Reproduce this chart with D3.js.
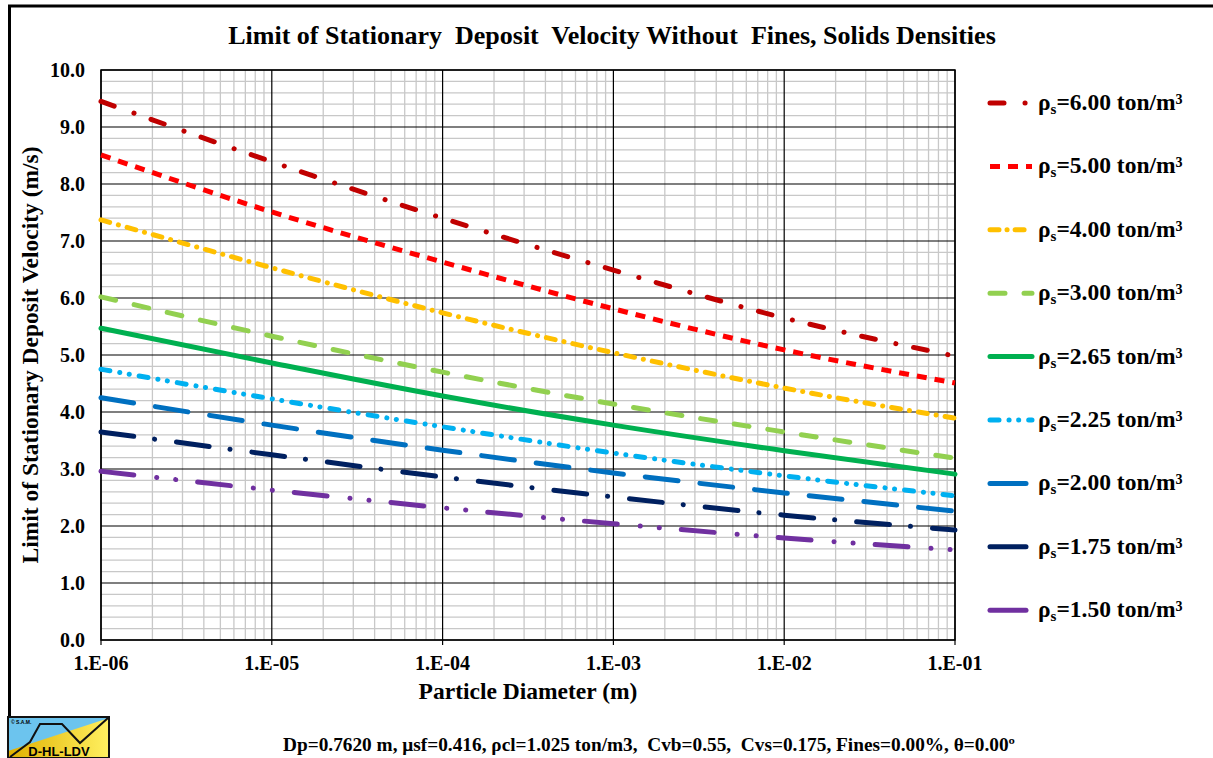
<!DOCTYPE html>
<html>
<head>
<meta charset="utf-8">
<script src="https://cdn.jsdelivr.net/npm/d3@7"></script>
<style>
  body { margin: 0; background: #fff; }
  svg { display: block; }
  text { font-family: "Liberation Serif", "Times New Roman", serif; font-weight: bold; fill: #000; white-space: pre; }
</style>
</head>
<body>
<script>
  //Data
  var diameters = [1e-6, 1e-5, 1e-4, 1e-3, 1e-2, 1e-1]; //particle diameter (m)
  var densities = ["6.00", "5.00", "4.00", "3.00", "2.65", "2.25", "2.00", "1.75", "1.50"];
  var v600 = [9.45, 8.39, 7.40, 6.49, 5.65, 4.98];
  var v500 = [8.51, 7.51, 6.63, 5.81, 5.09, 4.51];
  var v400 = [7.37, 6.53, 5.74, 5.04, 4.42, 3.89];
  var v300 = [6.02, 5.33, 4.70, 4.14, 3.65, 3.19];
  var v265 = [5.47, 4.86, 4.28, 3.77, 3.32, 2.91];
  var v225 = [4.75, 4.23, 3.74, 3.28, 2.88, 2.53];
  var v200 = [4.25, 3.77, 3.33, 2.93, 2.58, 2.26];
  var v175 = [3.65, 3.25, 2.86, 2.51, 2.19, 1.93];
  var v150 = [2.96, 2.63, 2.32, 2.04, 1.79, 1.58];
  var yTicks = [0, 1, 2, 3, 4, 5, 6, 7, 8, 9, 10];

  var values = [v600, v500, v400, v300, v265, v225, v200, v175, v150];
  var colors = ["#C00000", "#FF0000", "#FFC000", "#92D050", "#00B050", "#00B0F0", "#0070C0", "#002060", "#7030A0"];
  var dashes = ["14,21,0.1,18", "10,8", "9,9,0.1,9", "15,19", null, "9,10,0.1,9.5,0.1,10", "33,22", "33,21,0.1,22", "33,23,0.1,19,0.1,22"];
  var caps = ["round", "butt", "round", "round", "round", "round", "round", "round", "round"];

  var W = 1213, H = 758;
  var pLeft = 101, pRight = 955, pTop = 70, pBottom = 640; //plot area

  var svg = d3.select("body").append("svg").attr("width", W).attr("height", H);

  var x = d3.scaleLog().domain([1e-6, 1e-1]).range([pLeft, pRight]);
  var y = d3.scaleLinear().domain([0, 10]).range([pBottom, pTop]);

  //frame
  svg.append("line").attr("x1", 8).attr("x2", W).attr("y1", 6).attr("y2", 6)
      .attr("stroke", "#000").attr("stroke-width", 3);
  svg.append("line").attr("x1", 9.5).attr("x2", 9.5).attr("y1", 5).attr("y2", 718)
      .attr("stroke", "#000").attr("stroke-width", 3);

  //GRID
  var minorY = d3.range(0, 10.01, 0.2).filter(function(d) { return Math.abs(d - Math.round(d)) > 0.01; });
  svg.append("g").selectAll("line").data(minorY).enter().append("line")
      .attr("x1", pLeft).attr("x2", pRight)
      .attr("y1", function(d) { return y(d); }).attr("y2", function(d) { return y(d); })
      .attr("stroke", "#C8C8C8").attr("stroke-width", 1.3);

  var minorX = [];
  diameters.slice(0, 5).forEach(function(d) {
      for (var k = 2; k <= 9; k++) minorX.push(d * k);
  });
  svg.append("g").selectAll("line").data(minorX).enter().append("line")
      .attr("x1", function(d) { return x(d); }).attr("x2", function(d) { return x(d); })
      .attr("y1", pTop).attr("y2", pBottom)
      .attr("stroke", "#C8C8C8").attr("stroke-width", 1.3);

  svg.append("g").selectAll("line").data(yTicks).enter().append("line")
      .attr("x1", pLeft).attr("x2", pRight)
      .attr("y1", function(d) { return y(d); }).attr("y2", function(d) { return y(d); })
      .attr("stroke", "#000").attr("stroke-width", 1.2);

  svg.append("g").selectAll("line").data(diameters).enter().append("line")
      .attr("x1", function(d) { return x(d); }).attr("x2", function(d) { return x(d); })
      .attr("y1", pTop).attr("y2", pBottom + 5)
      .attr("stroke", "#000").attr("stroke-width", 1.2);

  svg.append("rect").attr("x", pLeft).attr("y", pTop)
      .attr("width", pRight - pLeft).attr("height", pBottom - pTop)
      .attr("fill", "none").attr("stroke", "#000").attr("stroke-width", 1.5);

  //AXES LABELS
  svg.append("g").selectAll("text").data(yTicks).enter().append("text")
      .attr("x", 85).attr("y", function(d) { return y(d); })
      .attr("dy", "0.35em").attr("text-anchor", "end")
      .style("font-size", "20px")
      .text(function(d) { return d.toFixed(1); });

  var fmtE = function(d) {
      var e = Math.round(Math.log10(d));
      return "1.E" + (e < 0 ? "-" : "+") + (Math.abs(e) < 10 ? "0" : "") + Math.abs(e);
  };
  svg.append("g").selectAll("text").data(diameters).enter().append("text")
      .attr("x", function(d) { return x(d); }).attr("y", 670)
      .attr("text-anchor", "middle")
      .style("font-size", "20px")
      .text(fmtE);

  svg.append("text").attr("x", 528).attr("y", 699).attr("text-anchor", "middle")
      .style("font-size", "23.5px").text("Particle Diameter (m)");

  svg.append("text").attr("transform", "translate(38,355) rotate(-90)")
      .attr("text-anchor", "middle").style("font-size", "23.5px")
      .text("Limit of Stationary Deposit Velocity (m/s)");

  svg.append("text").attr("x", 612).attr("y", 44).attr("text-anchor", "middle")
      .style("font-size", "26px").text("Limit of Stationary  Deposit  Velocity Without  Fines, Solids Densities");

  svg.append("text").attr("x", 283).attr("y", 751)
      .attr("textLength", 732).attr("lengthAdjust", "spacingAndGlyphs")
      .style("font-size", "18px")
      .text("Dp=0.7620 m, \u03bcsf=0.416, \u03c1cl=1.025 ton/m3,  Cvb=0.55,  Cvs=0.175, Fines=0.00%, \u03b8=0.00\u00ba");

  //LINES
  var line = d3.line()
      .x(function(d) { return x(d[0]); })
      .y(function(d) { return y(d[1]); })
      .curve(d3.curveMonotoneX);

  var plot = svg.append("g");
  values.forEach(function(vals, i) {
      var pts = diameters.map(function(d, j) { return [d, vals[j]]; });
      plot.append("path").datum(pts)
          .attr("d", line)
          .attr("fill", "none")
          .attr("stroke", colors[i])
          .attr("stroke-width", 5)
          .attr("stroke-linecap", caps[i])
          .attr("stroke-dasharray", dashes[i]);
  });

  //LEGEND
  var legDash = ["14,21,0.1,18", "10,8", "9,8,0.1,8", "15,19", null, "9,10,0.1,9.5,0.1,10", "36,22", "36,22", "36,22"];
  var legend = svg.append("g").selectAll("g").data(densities).enter().append("g")
      .attr("transform", function(d, i) { return "translate(0," + (103 + i * 63.4) + ")"; });
  legend.append("line").attr("x1", 990).attr("x2", 1032).attr("y1", 0).attr("y2", 0)
      .attr("stroke", function(d, i) { return colors[i]; })
      .attr("stroke-width", 5)
      .attr("stroke-linecap", function(d, i) { return caps[i]; })
      .attr("stroke-dasharray", function(d, i) { return legDash[i]; });
  var lt = legend.append("text").attr("x", 1038).attr("y", 7).style("font-size", "23.5px");
  lt.append("tspan").text("\u03c1");
  lt.append("tspan").attr("dy", 4).style("font-size", "15px").text("s");
  lt.append("tspan").attr("dy", -4).text(function(d) { return "=" + d + " ton/m\u00b3"; });

  //LOGO
  var logo = svg.append("g");
  var defs = svg.append("defs");
  var grad = defs.append("linearGradient").attr("id", "yel").attr("x1", 0).attr("x2", 1);
  grad.append("stop").attr("offset", 0).attr("stop-color", "#E0B000");
  grad.append("stop").attr("offset", 1).attr("stop-color", "#FFF060");
  logo.append("rect").attr("x", 8).attr("y", 717).attr("width", 101).attr("height", 41).attr("fill", "#6CC4EE");
  logo.append("path").attr("d", "M8,751 L109,718 L109,758 L8,758 Z").attr("fill", "url(#yel)");
  logo.append("polyline").attr("points", "10,757 30,742 40,724 62,724 80,743 108,718")
      .attr("fill", "none").attr("stroke", "#111").attr("stroke-width", 2);
  logo.append("rect").attr("x", 8).attr("y", 717).attr("width", 101).attr("height", 41)
      .attr("fill", "none").attr("stroke", "#111").attr("stroke-width", 2);
  logo.append("text").attr("x", 59).attr("y", 756).attr("text-anchor", "middle")
      .style("font-family", "Liberation Sans, Arial, sans-serif").style("font-size", "13px")
      .text("D-HL-LDV");
  logo.append("text").attr("x", 11).attr("y", 724)
      .style("font-family", "Liberation Sans, Arial, sans-serif").style("font-size", "5px")
      .text("\u00a9 S.A.M.");
</script>
</body>
</html>
